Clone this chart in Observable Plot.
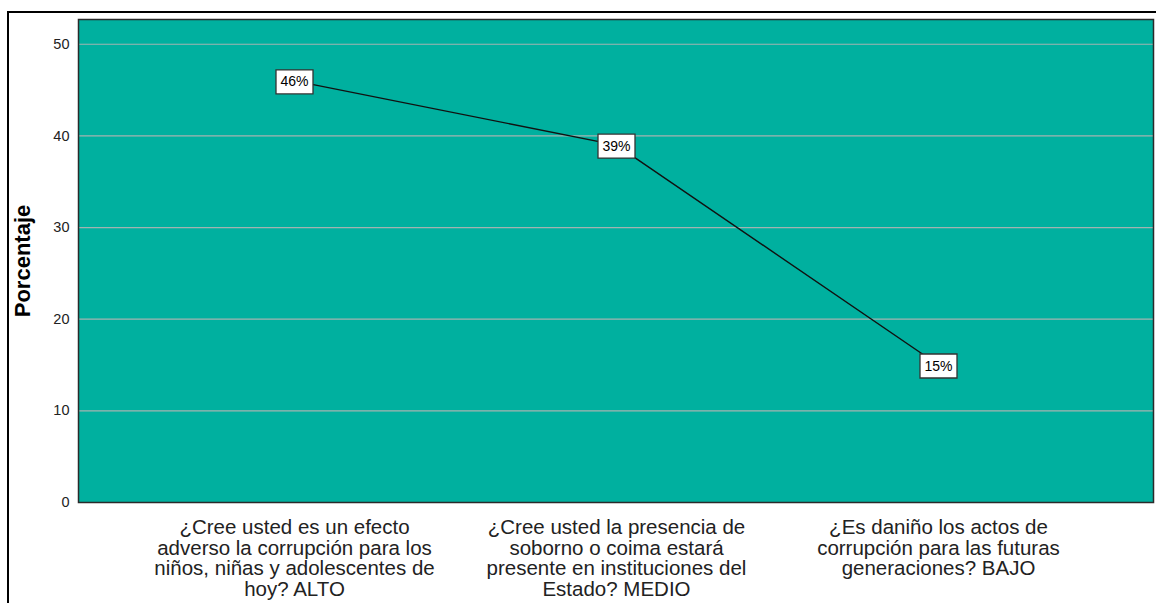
<!DOCTYPE html>
<html><head><meta charset="utf-8">
<script src="https://cdn.jsdelivr.net/npm/d3@7"></script>
<script src="https://cdn.jsdelivr.net/npm/@observablehq/plot@0.6"></script>
<style>
body{margin:0;background:#fff;font-family:"Liberation Sans",Arial,sans-serif;}
#wrap{position:relative;width:1156px;height:603px;overflow:hidden;}
#border{position:absolute;left:7px;top:11px;width:1160px;height:620px;border-top:2px solid #000;border-left:2px solid #000;pointer-events:none;}
</style></head>
<body><div id="wrap"><div id="border"></div></div>
<script>
const categories = [
  "¿Cree usted es un efecto\nadverso la corrupción para los\nniños, niñas y adolescentes de\nhoy? ALTO",
  "¿Cree usted la presencia de\nsoborno o coima estará\npresente en instituciones del\nEstado? MEDIO",
  "¿Es daniño los actos de\ncorrupción para las futuras\ngeneraciones? BAJO"
];
const values = [46, 39, 15];
const labels = ["46%", "39%", "15%"];
const yTicks = [0, 10, 20, 30, 40, 50];

const data = categories.map((c, i) => ({cat: c, v: values[i], lab: labels[i]}));
const boxSymbol = {draw(ctx){ ctx.moveTo(-18.5,-12); ctx.lineTo(18.5,-12); ctx.lineTo(18.5,12); ctx.lineTo(-18.5,12); ctx.closePath(); }};

const chart = Plot.plot({
  width: 1156, height: 603,
  marginLeft: 78, marginRight: 3, marginTop: 19, marginBottom: 101,
  style: {fontFamily: "'Liberation Sans', Arial, sans-serif", background: "transparent", overflow: "visible"},
  x: {type: "point", domain: categories, padding: 0.669},
  y: {domain: [0, 52.7]},
  marks: [
    Plot.frame({fill: "#00B09F"}),
    Plot.ruleY(yTicks.filter(d => d > 0), {stroke: "#a3b3b0", strokeWidth: 1.2}),
    Plot.frame({stroke: "#2a2a2a", strokeWidth: 1.5}),
    Plot.axisY({ticks: yTicks, tickSize: 0, tickPadding: 9, fontSize: 14.5, color: "#222",
      label: "Porcentaje", labelAnchor: "center", labelArrow: "none", labelOffset: 64}),
    Plot.axisX({tickSize: 0, tickPadding: 17, fontSize: 20.5, lineHeight: 1.0, label: null, color: "#222"}),
    Plot.line(data, {x: "cat", y: "v", stroke: "#111", strokeWidth: 1.4}),
    Plot.dot(data, {x: "cat", y: "v", symbol: boxSymbol, fill: "#fff", stroke: "#333", strokeWidth: 1.3, r: 5, dy: 1}),
    Plot.text(data, {x: "cat", y: "v", text: "lab", fontSize: 14, fill: "#000", dy: 1})
  ]
});
chart.querySelectorAll('[aria-label="y-axis label"] text').forEach(t => { t.setAttribute("font-weight", "bold"); t.setAttribute("font-size", "22"); t.setAttribute("fill", "#000"); });
document.getElementById("wrap").prepend(chart);
</script></body></html>
